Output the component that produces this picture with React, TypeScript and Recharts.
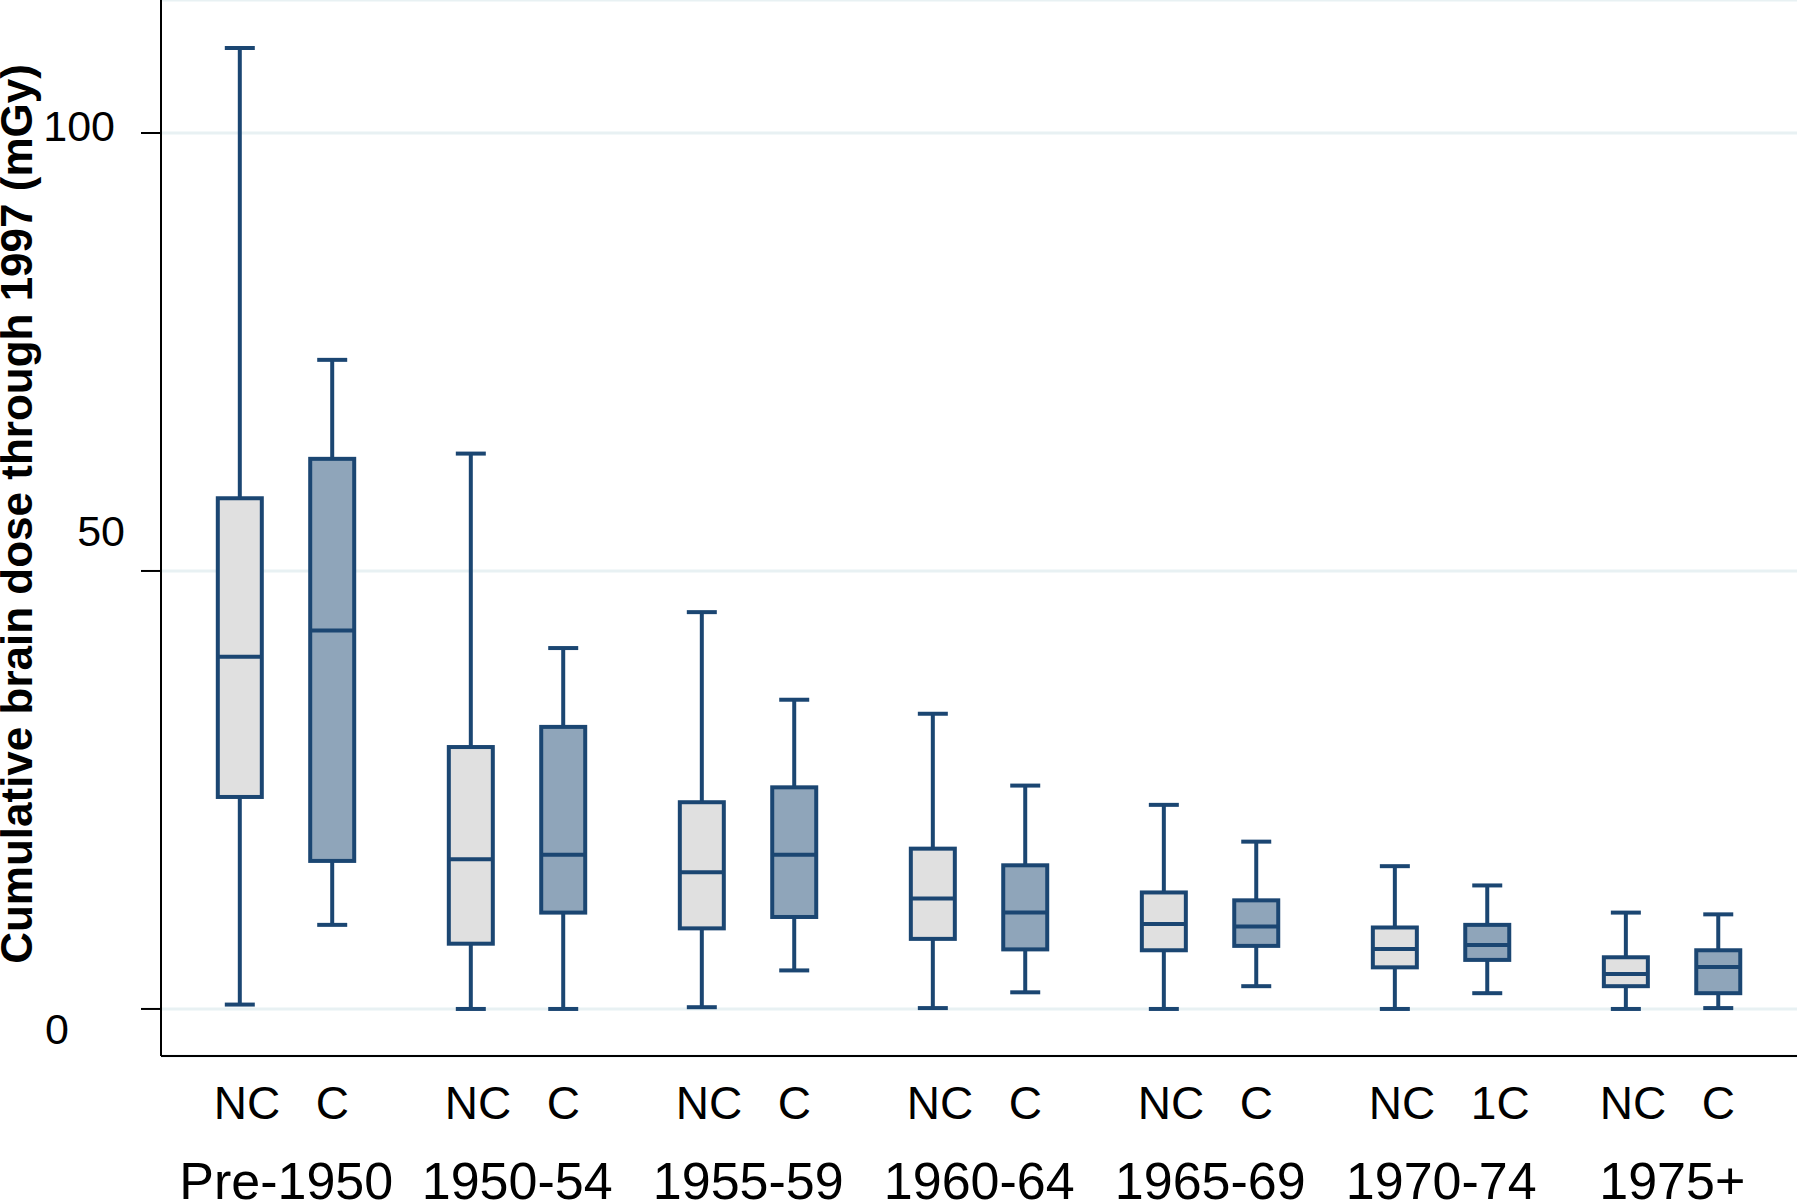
import React from 'react';
import { ComposedChart, Bar, XAxis, YAxis, CartesianGrid, Label } from 'recharts';

// ---------- data ----------
const groups = ['Pre-1950', '1950-54', '1955-59', '1960-64', '1965-69', '1970-74', '1975+'];
const ncLabels = ['NC', 'NC', 'NC', 'NC', 'NC', 'NC', 'NC'];
const cLabels = ['C', 'C', 'C', 'C', 'C', '1C', 'C'];

const ncMin = [0.5, 0, 0.2, 0.1, 0, 0, 0];
const ncQ1 = [24.2, 7.45, 9.2, 8.0, 6.7, 4.75, 2.6];
const ncMed = [40.2, 17.1, 15.6, 12.6, 9.7, 6.85, 4.0];
const ncQ3 = [58.3, 29.9, 23.6, 18.3, 13.3, 9.3, 5.9];
const ncMax = [109.7, 63.4, 45.3, 33.7, 23.3, 16.3, 11.0];

const cMin = [9.6, 0, 4.4, 1.9, 2.6, 1.8, 0.1];
const cQ1 = [16.9, 11.0, 10.5, 6.8, 7.2, 5.6, 1.8];
const cMed = [43.2, 17.6, 17.6, 11.0, 9.4, 7.3, 4.8];
const cQ3 = [62.8, 32.2, 25.3, 16.4, 12.4, 9.6, 6.7];
const cMax = [74.1, 41.2, 35.3, 25.5, 19.1, 14.1, 10.8];

const yTicks = [0, 50, 100];
const yTitle = 'Cumulative brain dose through 1997 (mGy)';

// ---------- layout / style ----------
const GROUP_STEP = 2.5;
const PAIR_GAP = 1;
const STROKE = '#1b4672';
const NC_FILL = '#e0e0e0';
const C_FILL = '#8fa5ba';
const GRID = '#e8f1f3';
const FONT = '"Liberation Sans", Arial, sans-serif';
const BOX_W = 44;
const CAP_W = 30;
const LW = 4;
const SUB_FONT = 46;

type Row = {
  pos: number;
  min: number;
  q1: number;
  med: number;
  q3: number;
  max: number;
  kind: 'NC' | 'C';
};

const rows: Row[] = groups.flatMap((_, i) => [
  { pos: i * GROUP_STEP, min: ncMin[i], q1: ncQ1[i], med: ncMed[i], q3: ncQ3[i], max: ncMax[i], kind: 'NC' as const },
  { pos: i * GROUP_STEP + PAIR_GAP, min: cMin[i], q1: cQ1[i], med: cMed[i], q3: cQ3[i], max: cMax[i], kind: 'C' as const },
]);

const xTicks: number[] = groups.flatMap((_, i) => [
  i * GROUP_STEP,
  i * GROUP_STEP + PAIR_GAP / 2,
  i * GROUP_STEP + PAIR_GAP,
]);

const BoxShape = (props: any) => {
  const { x, y, width, height, payload } = props;
  if (!payload || x == null || y == null || height == null) return null;
  const top = Math.min(y, y + height);
  const h = Math.abs(height);
  const { min, q1, med, q3, max, kind } = payload as Row;
  const span = max - min;
  const py = (v: number) => top + (span === 0 ? 0 : (h * (max - v)) / span);
  const cx = x + width / 2;
  const fill = kind === 'NC' ? NC_FILL : C_FILL;
  return (
    <g>
      <line x1={cx} x2={cx} y1={py(max)} y2={py(q3)} stroke={STROKE} strokeWidth={LW} />
      <line x1={cx} x2={cx} y1={py(q1)} y2={py(min)} stroke={STROKE} strokeWidth={LW} />
      <line x1={cx - CAP_W / 2} x2={cx + CAP_W / 2} y1={py(max)} y2={py(max)} stroke={STROKE} strokeWidth={LW} />
      <line x1={cx - CAP_W / 2} x2={cx + CAP_W / 2} y1={py(min)} y2={py(min)} stroke={STROKE} strokeWidth={LW} />
      <rect
        x={cx - BOX_W / 2}
        y={py(q3)}
        width={BOX_W}
        height={py(q1) - py(q3)}
        fill={fill}
        stroke={STROKE}
        strokeWidth={LW}
      />
      <line x1={cx - BOX_W / 2} x2={cx + BOX_W / 2} y1={py(med)} y2={py(med)} stroke={STROKE} strokeWidth={LW} />
    </g>
  );
};

const XTick = (props: any) => {
  const { x, y, payload } = props;
  const v = payload.value as number;
  const gi = Math.floor(v / GROUP_STEP + 1e-6);
  const r = v - gi * GROUP_STEP;
  if (Math.abs(r - PAIR_GAP / 2) < 1e-6) {
    return (
      <text x={x} y={y + 143} textAnchor="middle" fontSize={52} fontFamily={FONT} fill="#000">
        {groups[gi]}
      </text>
    );
  }
  const isNC = r < PAIR_GAP / 4;
  if (isNC) {
    return (
      <text x={x + 7} y={y + 63} textAnchor="middle" fontSize={SUB_FONT} fontFamily={FONT} fill="#000">
        {ncLabels[gi]}
      </text>
    );
  }
  // C labels start where a centred single "C" would start
  const halfC = (0.722 * SUB_FONT) / 2;
  return (
    <text x={x - halfC} y={y + 63} textAnchor="start" fontSize={SUB_FONT} fontFamily={FONT} fill="#000">
      {cLabels[gi]}
    </text>
  );
};

const Y_LABEL_STYLE: Record<number, { endX: number; dy: number; size: number }> = {
  100: { endX: 115, dy: 8, size: 43 },
  50: { endX: 125, dy: -25, size: 43 },
  0: { endX: 69, dy: 35, size: 43 },
};

const YTick = (props: any) => {
  const { y, payload } = props;
  const v = payload.value as number;
  const s = Y_LABEL_STYLE[v] || { endX: 130, dy: 14, size: 43 };
  return (
    <text x={s.endX} y={y + s.dy} textAnchor="end" fontSize={s.size} fontFamily={FONT} fill="#000">
      {String(v)}
    </text>
  );
};

const YTitle = (props: any) => {
  const vb = props.viewBox || { x: 0, y: 0, width: 161, height: 1056 };
  const cy = vb.y + vb.height / 2 - 14;
  const tx = 32;
  return (
    <text
      x={tx}
      y={cy}
      transform={`rotate(-90, ${tx}, ${cy})`}
      textAnchor="middle"
      fontSize={44}
      fontWeight="bold"
      fontFamily={FONT}
      fill="#000"
    >
      {yTitle}
    </text>
  );
};

export default function App() {
  return (
    <div style={{ position: 'absolute', left: 0, top: 0, width: 1800, height: 1202, background: '#fff' }}>
      <ComposedChart
        width={1800}
        height={1202}
        data={rows}
        margin={{ top: 0, right: 3, left: 0, bottom: 0 }}
        style={{ fontFamily: FONT }}
      >
        <CartesianGrid horizontal vertical={false} stroke={GRID} strokeWidth={3} />
        <XAxis
          dataKey="pos"
          type="number"
          domain={[-0.855, 16.85]}
          allowDataOverflow
          ticks={xTicks}
          interval={0}
          height={146}
          tickLine={false}
          tickSize={0}
          tickMargin={0}
          axisLine={{ stroke: '#000', strokeWidth: 2 }}
          tick={<XTick />}
        />
        <YAxis
          type="number"
          domain={[-5.37, 115.18]}
          allowDataOverflow
          ticks={yTicks}
          interval={0}
          width={161}
          tickSize={20}
          tickLine={{ stroke: '#000', strokeWidth: 2 }}
          axisLine={{ stroke: '#000', strokeWidth: 2 }}
          tick={<YTick />}
        >
          <Label content={<YTitle />} />
        </YAxis>
        <Bar
          dataKey={(d: Row) => [d.min, d.max]}
          barSize={BOX_W}
          shape={<BoxShape />}
          isAnimationActive={false}
        />
      </ComposedChart>
    </div>
  );
}
